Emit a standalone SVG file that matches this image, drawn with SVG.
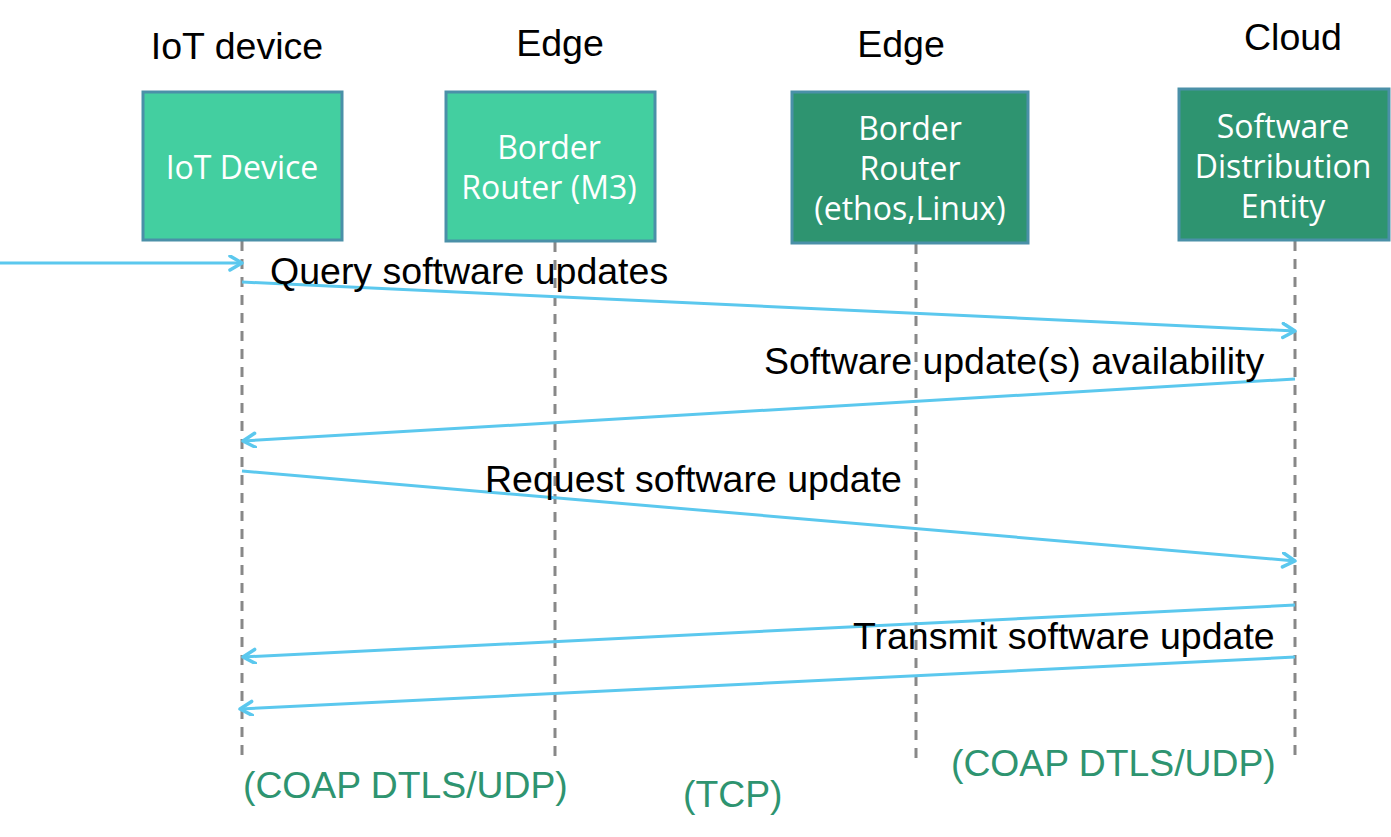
<svg xmlns="http://www.w3.org/2000/svg" width="1391" height="837" viewBox="0 0 1391 837">
<style>
.hdr{font-family:"Liberation Sans",Arial,sans-serif;font-size:37.5px;fill:#000;text-anchor:middle}
.lbl{font-family:"Liberation Sans",Arial,sans-serif;font-size:37.5px;fill:#000}
.proto{font-family:"Liberation Sans",Arial,sans-serif;font-size:37.3px;fill:#2E9470}
.boxt{font-family:"Open Sans","DejaVu Sans",sans-serif;font-size:32px;fill:#fff;text-anchor:middle}
.light{fill:#43CFA0;stroke:#4A90A8;stroke-width:3}
.dark{fill:#2E9470;stroke:#4A90A8;stroke-width:3}
.life{stroke:#888;stroke-width:3;stroke-dasharray:10 8;fill:none}
.msg{stroke:#5BC8EE;stroke-width:3;fill:none;marker-end:url(#ah)}
</style>
<defs>
<marker id="ah" markerUnits="userSpaceOnUse" markerWidth="20" markerHeight="20" refX="14" refY="8" orient="auto">
<path d="M2,1 L14,8 L2,15" fill="none" stroke="#5BC8EE" stroke-width="3.5" stroke-linecap="round" stroke-linejoin="round"/>
</marker>
</defs>
<rect width="1391" height="837" fill="#fff"/>
<g id="headers">
<text class="hdr" x="237" y="59">IoT device</text>
<text class="hdr" x="560" y="56">Edge</text>
<text class="hdr" x="901" y="57">Edge</text>
<text class="hdr" x="1293" y="50">Cloud</text>
</g>
<g id="lifelines">
<line class="life" x1="242" y1="241" x2="242" y2="756"/>
<line class="life" x1="555" y1="242" x2="555" y2="756"/>
<line class="life" x1="916" y1="244" x2="916" y2="762"/>
<line class="life" x1="1295" y1="241" x2="1295" y2="758"/>
</g>
<g id="node-iot">
<rect class="light" x="143" y="92" width="199" height="148"/>
<text class="boxt" x="242" y="179">IoT Device</text>
</g>
<g id="node-br-m3">
<rect class="light" x="446" y="92" width="209" height="149"/>
<text class="boxt" x="549" y="159">Border</text>
<text class="boxt" x="549" y="199">Router (M3)</text>
</g>
<g id="node-br-linux">
<rect class="dark" x="792" y="92" width="236" height="151"/>
<text class="boxt" x="910" y="140">Border</text>
<text class="boxt" x="910" y="180">Router</text>
<text class="boxt" x="910" y="220">(ethos,Linux)</text>
</g>
<g id="node-sde">
<rect class="dark" x="1179" y="89" width="210" height="151"/>
<text class="boxt" x="1283" y="138">Software</text>
<text class="boxt" x="1283" y="178">Distribution</text>
<text class="boxt" x="1283" y="218">Entity</text>
</g>
<g id="connectors">
<line class="msg" x1="0" y1="263" x2="242" y2="263"/>
<line class="msg" x1="242" y1="282" x2="1295" y2="331"/>
<line class="msg" x1="1295" y1="379" x2="243" y2="441"/>
<line class="msg" x1="242" y1="471" x2="1295" y2="561"/>
<line class="msg" x1="1295" y1="605" x2="243" y2="657"/>
<line class="msg" x1="1295" y1="657" x2="240" y2="709"/>
</g>
<g id="labels">
<text class="lbl" x="270" y="284">Query software updates</text>
<text class="lbl" x="764" y="374">Software update(s) availability</text>
<text class="lbl" x="485" y="492">Request software update</text>
<text class="lbl" x="853" y="649">Transmit software update</text>
</g>
<g id="protocols">
<text class="proto" x="243" y="798">(COAP DTLS/UDP)</text>
<text class="proto" x="683" y="807">(TCP)</text>
<text class="proto" x="951" y="776">(COAP DTLS/UDP)</text>
</g>
</svg>
